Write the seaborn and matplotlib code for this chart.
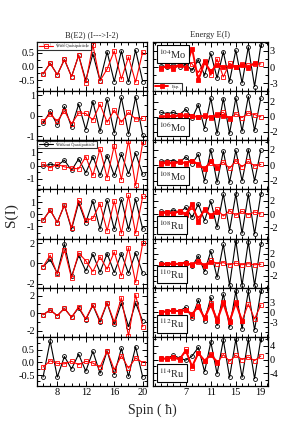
import matplotlib
matplotlib.use("Agg")
import matplotlib.pyplot as plt
import seaborn as sns
from matplotlib.ticker import MultipleLocator, FixedLocator

# spins
spin_be2 = [6, 7, 8, 9, 10, 11, 12, 13, 14, 15, 16, 17, 18, 19, 20]
spin_en = [3, 4, 5, 6, 7, 8, 9, 10, 11, 12, 13, 14, 15, 16, 17, 18, 19]

nuclei = [r'$^{104}$Mo', r'$^{106}$Mo', r'$^{108}$Mo', r'$^{108}$Ru',
          r'$^{110}$Ru', r'$^{112}$Ru', r'$^{114}$Ru']

# B(E2) staggering, without / with quasiparticle
be2_wo_104mo = [-0.27, 0.12, -0.3, 0.26, -0.37, 0.41, -0.5, 0.47, -0.52, 0.54, -0.55, 0.57, -0.56, 0.6, -0.55]
be2_wq_104mo = [-0.27, 0.12, -0.3, 0.26, -0.37, 0.41, -0.59, 0.79, -0.52, -0.09, 0.57, -0.46, 0.35, -0.57, 0.54]
be2_wo_106mo = [-0.37, 0.21, -0.45, 0.45, -0.56, 0.56, -0.68, 0.69, -0.77, 0.8, -0.84, 0.89, -0.89, 0.92, -0.94]
be2_wq_106mo = [-0.27, 0.08, -0.27, 0.24, -0.4, 0.13, 0.11, -0.21, 0.56, -0.32, 0.27, -0.32, 0.16, -0.16, -0.13]
be2_wo_108mo = [-0.05, 0.1, 0.0, 0.4, -0.37, 0.5, -0.55, 0.67, -0.75, 0.75, -0.75, 0.87, -0.62, 0.92, -0.67]
be2_wq_108mo = [0.1, -0.17, 0.1, -0.1, -0.2, -0.25, 0.67, -0.75, 1.25, -0.92, 1.5, -1.07, 1.87, -1.5, 1.75]
be2_wo_108ru = [-0.49, 0.36, -0.68, 0.77, -1.23, 0.96, -0.68, 1.1, -1.23, 1.15, -1.23, 1.23, -1.23, 1.23, -1.23]
be2_wq_108ru = [-0.49, 0.36, -0.68, 0.77, -1.1, 1.15, -0.5, -0.33, 0.88, -1.37, 1.1, -1.56, 1.56, -1.56, 1.5]
be2_wo_110ru = [-0.32, 0.39, -0.97, 1.94, -1.29, 0.8, -0.74, 0.9, -0.87, 0.97, -0.9, 0.97, -0.97, 1.03, -0.97]
be2_wq_110ru = [-0.32, 0.8, -1.06, 1.35, -1.45, 1.03, 0.26, -0.8, 0.65, -0.58, 1.13, -1.23, 1.55, -1.87, 2.0]
be2_wo_112ru = [-0.18, 0.36, -0.29, 0.55, -0.47, 0.62, -0.73, 0.9, -1.02, 1.16, -1.27, 1.16, -1.53, 1.16, -0.9]
be2_wq_112ru = [-0.18, 0.36, -0.29, 0.55, -0.47, 0.73, -0.65, 0.98, -0.84, 1.2, -1.02, 1.75, -2.6, 2.1, -1.55]
be2_wo_114ru = [-0.58, 0.84, -0.58, 0.23, -0.26, 0.32, -0.35, 0.43, -0.43, 0.45, -0.48, 0.55, -0.55, 0.61, -0.58]
be2_wq_114ru = [-0.19, 0.06, -0.04, -0.06, 0.04, -0.09, 0.04, -0.03, -0.19, 0.45, -0.29, 0.26, -0.23, 0.17, -0.01]

# energy staggering: without / with quasiparticle / experiment
en_wo_104mo = [0.2, 0.1, 0.4, 0.1, 0.5, -0.6, 1.36, -1.5, 2.5, -2.0, 2.8, -2.6, 3.1, -2.9, 3.7, -3.55, 4.0]
en_wq_104mo = [-0.3, 0.3, 0.1, 0.5, 1.1, 0.6, -1.0, 1.2, -1.5, 1.5, -1.8, 0.7, 0.1, 0.5, 0.3, 0.5, 0.6]
en_ex_104mo = [-0.2, 0.2, -0.3, 0.4, -0.1, 3.4, -2.4, 0.9, -0.8, 0.4, 0.0, 0.2, 0.0, 0.3, -0.1, 0.8]
en_wo_106mo = [0.58, 0.44, 0.58, 0.3, 1.0, -0.2, 1.6, -1.55, 2.5, -2.2, 2.4, -2.2, 2.5, -1.9, 2.7, -1.8, 2.5]
en_wq_106mo = [0.0, 0.2, 0.1, 0.3, 0.2, 0.1, 0.0, 0.2, -0.1, 0.4, 0.6, -0.3, 0.4, -0.1, 0.5, 0.3, 0.0]
en_ex_106mo = [-0.1, 0.1, 0.0, 0.2, 0.1, 0.1, 0.0, 0.1, 0.0, 0.2, 0.1, -0.1]
en_wo_108mo = [0.5, 0.55, 0.6, 0.4, 1.05, 0.2, 1.4, -2.0, 2.0, -2.2, 1.8, -2.2, 1.9, -2.0, 2.0, -2.0, 1.9]
en_wq_108mo = [0.3, 0.4, 0.3, 0.5, 0.2, 0.6, 0.0, -0.3, 0.3, -0.1, 0.4, -0.4, 0.6, -0.2, 0.5, -0.1, 0.1]
en_ex_108mo = [0.2, 0.3, 0.2, 0.4, 0.3, 0.6, 0.1, -0.5, 0.5, -0.4]
en_wo_108ru = [0.4, 0.25, 0.6, 0.25, 1.0, -0.5, 1.5, -1.0, 1.9, -2.0, 3.0, -2.5, 3.0, -2.9, 3.0, -3.0, 3.0]
en_wq_108ru = [0.0, 0.2, 0.1, 0.3, -0.2, 1.0, -0.6, 0.6, -0.2, 0.7, -0.3, 0.5, -0.2, 0.4, -0.1, 0.3, 0.0]
en_ex_108ru = [0.1, 0.3, 0.0, 0.5, 0.0, 1.5, -1.2, 0.8, -0.3, 0.3]
en_wo_110ru = [0.3, 0.2, 0.3, 0.1, 0.6, -0.3, 1.6, -1.25, 2.5, -2.3, 3.75, -3.75, 4.4, -3.75, 4.2, -3.75, 3.75]
en_wq_110ru = [0.1, 0.2, 0.3, 0.2, 0.4, 0.1, 0.6, 0.0, 0.8, 0.2, 0.4, 0.0, 0.3, 0.0, 0.2, 0.0, 0.1]
en_ex_110ru = [0.0, 0.2, 0.1, 0.2, 0.3, 0.0, 0.7, -0.3, 0.5]
en_wo_112ru = [0.2, 0.3, 0.7, 0.4, 1.5, -1.7, 3.7, -2.7, 4.5, -4.0, 5.5, -4.5, 6.3, -5.0, 6.3, -5.3, 6.3]
en_wq_112ru = [0.0, 0.3, 0.6, 0.2, 0.8, -1.0, 2.0, -1.5, 2.8, -2.0, 3.0, -2.5, 3.0, -2.5, 2.5, -2.0, 2.2]
en_ex_112ru = [0.1, 0.2, 0.5, 0.3, 0.6, -0.5, 1.7, -1.8, 2.3, -2.5, 2.7, -2.8, 2.8, -2.6]
en_wo_114ru = [0.3, 0.3, 1.2, 0.4, -0.2, 1.0, 3.5, -3.5, 5.0, -4.1, 5.6, -5.1, 5.8, -5.1, 5.8, -5.5, 6.0]
en_wq_114ru = [0.2, 0.3, 0.5, 0.0, 2.9, -2.3, 2.0, -0.5, 1.5, -1.0, 1.4, -0.5, 1.2, 0.0, 0.7, -0.3, 1.0]
en_ex_114ru = [0.3, 0.2, 0.6, 0.1, 2.5, -2.0, 1.8, -0.3, 1.3, -0.6]

be2_rows = [(be2_wo_104mo, be2_wq_104mo), (be2_wo_106mo, be2_wq_106mo),
            (be2_wo_108mo, be2_wq_108mo), (be2_wo_108ru, be2_wq_108ru),
            (be2_wo_110ru, be2_wq_110ru), (be2_wo_112ru, be2_wq_112ru),
            (be2_wo_114ru, be2_wq_114ru)]
en_rows = [(en_wo_104mo, en_wq_104mo, en_ex_104mo), (en_wo_106mo, en_wq_106mo, en_ex_106mo),
           (en_wo_108mo, en_wq_108mo, en_ex_108mo), (en_wo_108ru, en_wq_108ru, en_ex_108ru),
           (en_wo_110ru, en_wq_110ru, en_ex_110ru), (en_wo_112ru, en_wq_112ru, en_ex_112ru),
           (en_wo_114ru, en_wq_114ru, en_ex_114ru)]

# axis ranges and labelled ticks per row
be2_ylim = [(-0.9, 0.9), (-1.2, 1.2), (-1.8, 1.9), (-2.0, 2.05), (-2.4, 2.45), (-2.7, 2.9), (-0.93, 1.0)]
be2_ticks = [[-0.5, 0, 0.5], [-1, 0, 1], [-1, 0, 1], [-1, 0, 1], [-2, 0, 2], [-2, 0, 2], [-0.5, 0, 0.5]]
en_ylim = [(-4.4, 4.6), (-3.1, 3.4), (-3.1, 3.2), (-3.7, 3.7), (-4.2, 4.8), (-7.4, 7.4), (-7.6, 6.5)]
en_ticks = [[-3, 0, 3], [-2, 0, 2], [-2, 0, 2], [-2, 0, 2], [-2, 0, 2], [-3, 0, 3], [-4, 0, 4]]
be2_xticks = [8, 12, 16, 20]
en_xticks = [7, 11, 15, 19]

sns.set_theme(style="ticks")
plt.rcParams['font.family'] = ['Liberation Serif', 'DejaVu Serif']
plt.rcParams['mathtext.fontset'] = 'stix'
plt.rcParams['axes.unicode_minus'] = False

fig = plt.figure(figsize=(2.99, 4.23), dpi=100)

W, H = 299.0, 423.0
top, bot = 42.0, 386.0
rowh = (bot - top) / 7

def style_axis(ax, yticks, xticks, right_labels, bottom):
    for s in ax.spines.values():
        s.set_linewidth(0.9)
        s.set_color('black')
    step = yticks[2] - yticks[1]
    ax.yaxis.set_major_locator(FixedLocator(yticks))
    ax.yaxis.set_minor_locator(MultipleLocator(step / 2))
    ax.xaxis.set_major_locator(FixedLocator(xticks))
    ax.xaxis.set_minor_locator(MultipleLocator(1))
    ax.tick_params(which='both', direction='in', top=True, bottom=True, left=True, right=True,
                   width=0.7, labelsize=7.5, pad=1.5, colors='black')
    ax.tick_params(which='major', length=3.5)
    ax.tick_params(which='minor', length=2)
    ax.tick_params(labelleft=not right_labels, labelright=right_labels, labelbottom=bottom)
    ax.set_xlabel('')
    ax.set_ylabel('')

for i in range(7):
    y0 = 1 - (top + (i + 1) * rowh) / H
    axl = fig.add_axes([37 / W, y0, 110 / W, rowh / H])
    axr = fig.add_axes([152.7 / W, y0, 115 / W, rowh / H])

    wo, wq = be2_rows[i]
    sns.lineplot(x=spin_be2, y=wo, ax=axl, color='black', lw=0.8, marker='o', ms=2.8,
                 mfc='none', mec='black', mew=0.6, label='Without Quasiparticle')
    sns.lineplot(x=spin_be2, y=wq, ax=axl, color='red', lw=0.8, marker='s', ms=2.6,
                 mfc='none', mec='red', mew=0.6, label='With Quasiparticle')
    axl.set_xlim(5.15, 20.6)
    axl.set_ylim(*be2_ylim[i])
    style_axis(axl, be2_ticks[i], be2_xticks, False, i == 6)

    ewo, ewq, eex = en_rows[i]
    sns.lineplot(x=spin_en, y=ewo, ax=axr, color='black', lw=0.8, marker='o', ms=2.8,
                 mfc='none', mec='black', mew=0.6, label='Without Quasiparticle')
    sns.lineplot(x=spin_en, y=ewq, ax=axr, color='red', lw=0.8, marker='s', ms=2.6,
                 mfc='none', mec='red', mew=0.6, label='With Quasiparticle')
    sns.lineplot(x=spin_en[:len(eex)], y=eex, ax=axr, color='red', lw=1.4, marker='s', ms=2.8,
                 mfc='red', mec='red', mew=0.6, label='Exp.')
    axr.set_xlim(1.7, 20.1)
    axr.set_ylim(*en_ylim[i])
    style_axis(axr, en_ticks[i], en_xticks, True, i == 6)

    box = dict(boxstyle='square,pad=0.2', fc='white', ec='black', lw=0.8)
    if i == 0:
        axr.text(0.055, 0.9, nuclei[i], transform=axr.transAxes, fontsize=7.5,
                 va='top', ha='left', bbox=box)
    else:
        axr.text(0.055, 0.13, nuclei[i], transform=axr.transAxes, fontsize=7.5,
                 va='bottom', ha='left', bbox=box)

    # legends
    hl, ll = axl.get_legend_handles_labels()
    hr, lr = axr.get_legend_handles_labels()
    axl.get_legend().remove()
    axr.get_legend().remove()
    leg_kw = dict(fontsize=3.2, frameon=True, fancybox=False, edgecolor='black',
                  handlelength=3, borderpad=0.4, borderaxespad=0.1)
    if i == 0:
        lg = axl.legend([hl[1]], [ll[1]], loc='upper left', **leg_kw)
        lg.get_frame().set_linewidth(0.8)
        lg2 = axr.legend([hr[2]], [lr[2]], loc='lower left', **leg_kw)
        lg2.get_frame().set_linewidth(0.8)
    if i == 2:
        lg = axl.legend([hl[0]], [ll[0]], loc='upper left', **leg_kw)
        lg.get_frame().set_linewidth(0.8)

fig.text(92 / W, 1 - 35 / H, 'B(E2) (I--->I-2)', ha='center', va='center', fontsize=6)
fig.text(210 / W, 1 - 35 / H, 'Energy E(I)', ha='center', va='center', fontsize=6)
fig.text(11 / W, 1 - 215 / H, 'S(I)', ha='center', va='center', rotation=90, fontsize=11)
fig.text(152 / W, 1 - 410 / H, 'Spin ( ħ)', ha='center', va='center', fontsize=10)

fig.savefig('out.png', dpi=100)
